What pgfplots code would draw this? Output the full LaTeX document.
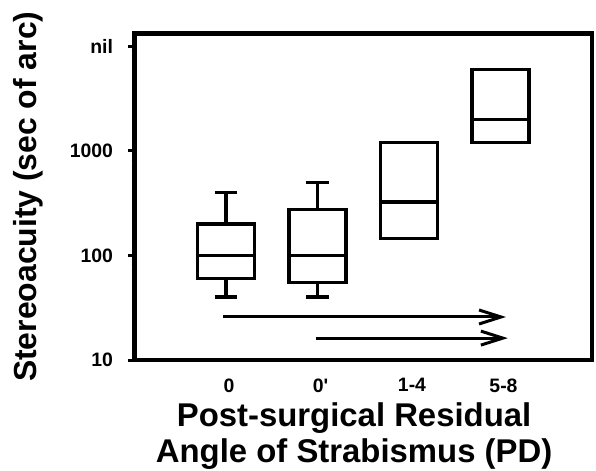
\documentclass[border=0pt]{standalone}
\usepackage{fontspec}
\setmainfont{Liberation Sans}
\usepackage{pgfplots}
\pgfplotsset{compat=1.18}
\usetikzlibrary{arrows.meta}

\newcommand{\tickfont}{\fontsize{19.5}{22}\selectfont\bfseries}

\begin{document}
\begin{tikzpicture}
\begin{axis}[
  scale only axis,
  width=457.5bp, height=326.5bp,
  xmin=-1, xmax=4,
  ymode=log, ymin=10, ymax=13300,
  xtick={0,1,2,3},
  xticklabels={0,0\textquotesingle,1-4,5-8},
  ytick={10,100,1000,10000},
  yticklabels={10,100,1000,nil},
  minor ytick={},
  ytick pos=left,
  tick align=outside,
  major tick length=6bp,
  x tick style={draw=none},
  y tick style={black, line width=3bp},
  axis line style={line width=4.5bp},
  /pgf/number format/assume math mode=true,
  tick label style={font=\tickfont},
  xticklabel style={yshift=-9bp, xshift=3bp},
  yticklabel style={xshift=-12bp},
  ylabel={Stereoacuity (sec of arc)},
  ylabel style={font=\fontsize{32}{36}\selectfont\bfseries,
    at={(axis description cs:-0.215,0.5)}, anchor=base},
  xlabel={Post-surgical Residual\\Angle of Strabismus (PD)},
  xlabel style={font=\fontsize{33}{36.5}\selectfont\bfseries, align=center,
    at={(axis description cs:0.48,-0.129)}, anchor=north, inner sep=0pt},
  unbounded coords=jump,
  bx/.style={black, line width=3.5bp, line join=miter, mark=none},
]
% ---- 0 : whiskers 40/400, box 60-200, median 100
\addplot[bx] coordinates {(-0.31,60) (0.31,60) (0.31,200) (-0.31,200)} -- cycle;
\addplot[bx] coordinates {(-0.31,100) (0.31,100)};
\addplot[bx] coordinates {(0,200) (0,400) (0,nan) (-0.125,400) (0.125,400)
  (0,nan) (0,60) (0,40) (0,nan) (-0.125,40) (0.125,40)};
% ---- 0' : whiskers 40/500, box 55-275, median 100
\addplot[bx] coordinates {(0.69,55) (1.31,55) (1.31,275) (0.69,275)} -- cycle;
\addplot[bx] coordinates {(0.69,100) (1.31,100)};
\addplot[bx] coordinates {(1,275) (1,500) (1,nan) (0.875,500) (1.125,500)
  (1,nan) (1,55) (1,40) (1,nan) (0.875,40) (1.125,40)};
% ---- 1-4 : box 145-1200, median 325
\addplot[bx] coordinates {(1.69,145) (2.31,145) (2.31,1200) (1.69,1200)} -- cycle;
\addplot[bx] coordinates {(1.69,325) (2.31,325)};
% ---- 5-8 : box 1200-6000, median 2000
\addplot[bx] coordinates {(2.69,1200) (3.31,1200) (3.31,6000) (2.69,6000)} -- cycle;
\addplot[bx] coordinates {(2.69,2000) (3.31,2000)};

% trend arrows
\draw[line width=3bp, -{Straight Barb[length=22bp, width=14bp, line width=3bp]}]
  (axis cs:-0.03,25.8) -- (axis cs:3.06,25.8);
\draw[line width=3bp, -{Straight Barb[length=22bp, width=14bp, line width=3bp]}]
  (axis cs:0.98,16.2) -- (axis cs:3.08,16.2);
\end{axis}
\pgfresetboundingbox
\path ([shift={(-134.5bp,-110bp)}]current axis.south west)
  rectangle ([shift={(4bp,33.5bp)}]current axis.north east);
\end{tikzpicture}
\end{document}
